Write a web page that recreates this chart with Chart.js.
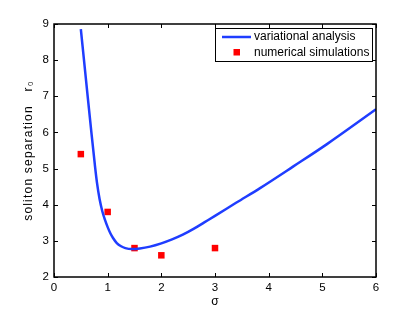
<!DOCTYPE html>
<html><head><meta charset="utf-8">
<script src="https://cdn.jsdelivr.net/npm/chart.js@4/dist/chart.umd.min.js"></script>
<style>html,body{margin:0;padding:0;background:#fff}#wrap{width:415px;height:313px}</style>
</head><body><div id="wrap"><canvas id="c" width="415" height="313"></canvas></div>
<script>
// variational analysis curve
const curveX = [0.50, 0.60, 0.70, 0.76, 0.80, 0.85, 0.90, 0.95, 1.00, 1.05, 1.10, 1.17, 1.25, 1.33, 1.45, 1.60, 1.79, 2.00, 2.20, 2.40, 2.60, 2.80, 3.00, 3.40, 3.84, 4.46, 5.08, 6.00];
const curveY = [8.86, 7.40, 5.95, 5.12, 4.62, 4.15, 3.82, 3.58, 3.38, 3.21, 3.08, 2.94, 2.85, 2.80, 2.775, 2.79, 2.84, 2.93, 3.04, 3.17, 3.33, 3.51, 3.69, 4.06, 4.46, 5.06, 5.67, 6.64];
// numerical simulations
const simX = [0.5, 1.0, 1.5, 2.0, 3.0];
const simY = [5.4, 3.8, 2.8, 2.6, 2.8];
const xTicks = [0, 1, 2, 3, 4, 5, 6];
const yTicks = [2, 3, 4, 5, 6, 7, 8, 9];
const labels = ['variational analysis', 'numerical simulations'];

const FONT = 'Liberation Sans, Arial, Helvetica, sans-serif';
const BLUE = '#1f3dff';
const RED = '#ff0000';

const boxPlugin = {
  id: 'boxPlugin',
  afterLayout(chart) {
    const s = chart.scales.y;
    if (s && !s._lsWrapped) {
      const orig = s.drawTitle.bind(s);
      s.drawTitle = function () {
        const ctx = chart.ctx; ctx.save(); ctx.letterSpacing = '1.2px'; orig(); ctx.restore();
      };
      s._lsWrapped = true;
    }
  },
  afterDraw(chart) {
    const ctx = chart.ctx, a = chart.chartArea, xs = chart.scales.x, ys = chart.scales.y;
    ctx.save();
    ctx.strokeStyle = '#000'; ctx.lineWidth = 1.5;
    ctx.strokeRect(a.left, a.top, a.right - a.left, a.bottom - a.top);
    ctx.lineWidth = 1;
    const L = 4;
    ctx.beginPath();
    xTicks.forEach(v => { const p = Math.round(xs.getPixelForValue(v)) + 0.5;
      ctx.moveTo(p, a.bottom); ctx.lineTo(p, a.bottom - L);
      ctx.moveTo(p, a.top); ctx.lineTo(p, a.top + L); });
    yTicks.forEach(v => { const p = Math.round(ys.getPixelForValue(v)) + 0.5;
      ctx.moveTo(a.left, p); ctx.lineTo(a.left + L, p);
      ctx.moveTo(a.right, p); ctx.lineTo(a.right - L, p); });
    ctx.stroke();
    // legend box
    const bx = 215, by = 28, bw = 157, bh = 33;
    ctx.fillStyle = '#fff'; ctx.fillRect(bx, by, bw, bh);
    ctx.strokeStyle = '#000'; ctx.lineWidth = 1;
    ctx.strokeRect(bx + 0.5, by + 0.5, bw, bh);
    ctx.strokeStyle = BLUE; ctx.lineWidth = 2.5;
    ctx.beginPath(); ctx.moveTo(222, 37); ctx.lineTo(251, 37); ctx.stroke();
    ctx.fillStyle = RED; ctx.fillRect(233.5, 49, 6.5, 6.5);
    ctx.fillStyle = '#000'; ctx.font = '12px ' + FONT; ctx.textBaseline = 'middle';
    ctx.fillText(labels[0], 254, 37);
    ctx.fillText(labels[1], 254, 52.5);
    ctx.restore();
  }
};

new Chart(document.getElementById('c'), {
  type: 'scatter',
  data: {
    datasets: [
      { label: labels[0], data: curveX.map((x, i) => ({x, y: curveY[i]})), showLine: true,
        borderColor: BLUE, borderWidth: 2.5, pointRadius: 0, cubicInterpolationMode: 'monotone', fill: false },
      { label: labels[1], data: simX.map((x, i) => ({x, y: simY[i]})), showLine: false,
        pointStyle: 'rect', pointRadius: 4.6, backgroundColor: RED, borderWidth: 0 }
    ]
  },
  options: {
    responsive: false, animation: false, devicePixelRatio: 1,
    layout: { padding: { top: 24, right: 39, left: 0, bottom: 0 } },
    plugins: { legend: { display: false }, tooltip: { enabled: false } },
    scales: {
      x: { type: 'linear', min: 0, max: 6,
        afterBuildTicks: s => { s.ticks = xTicks.map(v => ({value: v})); },
        afterFit: s => { s.height = 36; },
        grid: { display: false, drawTicks: false }, border: { display: false },
        ticks: { color: '#000', font: { family: FONT, size: 11.5 }, padding: 4, maxRotation: 0 },
        title: { display: true, text: 'σ', color: '#000', font: { family: FONT, size: 12 }, padding: { top: 0, bottom: 4 } } },
      y: { type: 'linear', min: 2, max: 9,
        afterBuildTicks: s => { s.ticks = yTicks.map(v => ({value: v})); },
        afterFit: s => { s.width = 54; },
        grid: { display: false, drawTicks: false }, border: { display: false },
        ticks: { color: '#000', font: { family: FONT, size: 11.5 }, padding: 5 },
        title: { display: true, text: 'soliton separation   r\u2080', color: '#000', font: { family: FONT, size: 12 }, padding: { top: 21, bottom: 0 } } }
    }
  },
  plugins: [boxPlugin]
});
</script></body></html>
